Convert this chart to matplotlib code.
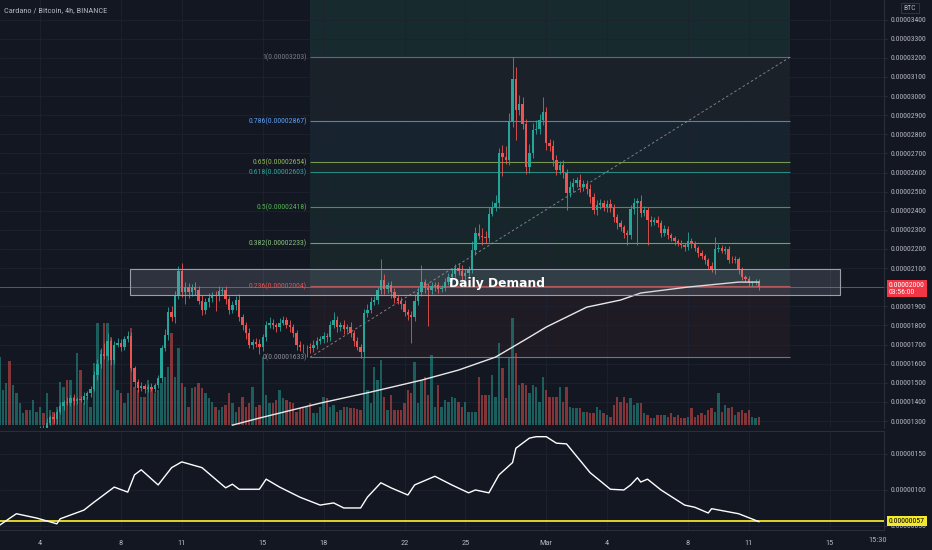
import numpy as np
import matplotlib
matplotlib.use("Agg")
import matplotlib.pyplot as plt
from matplotlib import font_manager
from matplotlib.patches import Rectangle
from matplotlib.transforms import blended_transform_factory as btf

# ---------------- data (prices in satoshi, 1e-8 BTC) ----------------
title = "Cardano / Bitcoin, 4h, BINANCE"
first_open = 1100
closes = [
    1105, 1110, 1120, 1100, 1115, 1130, 1150, 1175, 1160, 1190, 1210, 1230,
    1260, 1250, 1290, 1320, 1310, 1350, 1380, 1400, 1395, 1420, 1405, 1415,
    1410, 1430, 1445, 1470, 1540, 1600, 1650, 1640, 1720, 1620, 1700, 1710,
    1690, 1730, 1745, 1580, 1504, 1472, 1485, 1470, 1480, 1470, 1490, 1525,
    1680, 1750, 1870, 1845, 1960, 2085, 1975, 2000, 1975, 2000, 1985, 1930,
    1880, 1925, 1945, 1960, 1955, 1980, 1985, 1940, 1880, 1905, 1935, 1845,
    1800, 1760, 1700, 1715, 1705, 1690, 1740, 1800, 1815, 1800, 1790, 1815,
    1830, 1805, 1790, 1760, 1700, 1690, 1685, 1690, 1680, 1700, 1720, 1730,
    1745, 1740, 1800, 1830, 1790, 1805, 1780, 1790, 1760, 1720, 1690, 1660,
    1865, 1880, 1925, 1935, 1985, 2040, 1990, 2010, 1975, 1945, 1930, 1910,
    1870, 1855, 1845, 1930, 1975, 2025, 1995, 1985, 2005, 2010, 1990, 1998,
    2025, 2055, 2070, 2100, 2085, 2060, 2075, 2095, 2195, 2285, 2270, 2265,
    2255, 2385, 2420, 2440, 2700, 2680, 2665, 2870, 3090, 2925, 2960, 2855,
    2630, 2700, 2820, 2830, 2875, 2915, 2755, 2740, 2665, 2612, 2640, 2600,
    2493, 2524, 2545, 2561, 2525, 2540, 2515, 2472, 2404, 2430, 2440, 2420,
    2435, 2415, 2367, 2336, 2315, 2284, 2273, 2410, 2440, 2450, 2390, 2405,
    2352, 2340, 2350, 2335, 2285, 2305, 2273, 2255, 2243, 2232, 2222, 2210,
    2240, 2225, 2205, 2180, 2165, 2140, 2110, 2090, 2200, 2205, 2190, 2200,
    2145, 2140, 2150, 2090, 2055, 2045, 2020, 2025, 2030, 2000]
upper_wicks = [
    10, 15, 10, 20, 15, 10, 20, 15, 25, 10, 15, 20,
    15, 20, 25, 10, 20, 15, 20, 10, 25, 15, 20, 10,
    15, 20, 10, 15, 20, 25, 30, 60, 40, 15, 20, 25,
    20, 15, 25, 20, 10, 15, 20, 10, 15, 20, 10, 15,
    20, 30, 25, 30, 20, 25, 40, 30, 20, 15, 25, 20,
    30, 20, 25, 15, 20, 25, 15, 20, 15, 25, 20, 30,
    15, 20, 25, 15, 20, 25, 15, 25, 30, 20, 15, 25,
    20, 15, 25, 20, 15, 20, 15, 10, 20, 25, 20, 15,
    20, 15, 25, 40, 20, 15, 25, 20, 30, 15, 20, 15,
    20, 30, 25, 20, 15, 110, 30, 20, 25, 20, 15, 20,
    25, 15, 20, 35, 25, 90, 20, 25, 20, 15, 20, 15,
    25, 20, 30, 20, 25, 30, 20, 15, 45, 30, 45, 40,
    30, 35, 30, 40, 30, 45, 60, 40, 113, 60, 45, 35,
    25, 50, 40, 45, 30, 80, 25, 20, 30, 25, 20, 25,
    20, 30, 25, 15, 30, 20, 20, 25, 20, 25, 20, 15,
    20, 25, 20, 15, 15, 10, 15, 20, 25, 15, 30, 20,
    15, 20, 15, 20, 15, 20, 15, 10, 15, 10, 15, 10,
    48, 15, 15, 10, 15, 10, 15, 20, 62, 20, 15, 15,
    15, 20, 15, 10, 15, 10, 15, 10, 15, 12]
lower_wicks = [
    15, 10, 20, 15, 10, 20, 15, 10, 20, 15, 10, 20,
    15, 20, 15, 10, 20, 25, 15, 20, 10, 15, 20, 15,
    10, 20, 15, 20, 15, 25, 20, 15, 20, 25, 20, 15,
    25, 20, 15, 20, 25, 20, 15, 25, 20, 15, 20, 15,
    20, 15, 25, 20, 30, 20, 25, 60, 30, 20, 25, 20,
    25, 20, 30, 20, 80, 25, 20, 25, 20, 15, 25, 20,
    25, 30, 20, 25, 20, 40, 25, 20, 15, 20, 25, 20,
    15, 20, 25, 20, 30, 25, 30, 52, 25, 20, 25, 15,
    20, 25, 20, 15, 25, 20, 25, 15, 20, 25, 20, 30,
    25, 20, 15, 20, 25, 20, 25, 20, 30, 25, 20, 25,
    20, 25, 137, 20, 25, 20, 25, 190, 20, 25, 20, 15,
    20, 15, 20, 15, 20, 25, 20, 15, 20, 25, 20, 45,
    25, 20, 15, 20, 25, 100, 20, 25, 30, 155, 25, 30,
    40, 30, 25, 20, 30, 25, 35, 25, 30, 25, 20, 30,
    90, 20, 25, 20, 25, 20, 25, 30, 20, 25, 20, 20,
    25, 20, 25, 30, 20, 25, 53, 20, 25, 220, 25, 20,
    130, 20, 15, 20, 20, 15, 20, 15, 20, 15, 15, 20,
    15, 20, 15, 20, 15, 20, 15, 10, 20, 15, 10, 15,
    20, 15, 15, 20, 15, 20, 15, 15, 15, 15]
volumes = [
    68, 35, 42, 64, 40, 32, 22, 12, 15, 15, 25, 13, 18, 12, 32, 15, 13, 18, 43, 38,
    45, 45, 28, 72, 55, 22, 28, 18, 62, 102, 75, 102, 102, 88, 65, 35, 32, 22, 32, 97,
    38, 35, 28, 28, 45, 38, 32, 35, 42, 48, 58, 92, 48, 77, 42, 38, 18, 37, 38, 42,
    37, 32, 27, 23, 18, 15, 18, 20, 32, 22, 13, 18, 28, 18, 22, 38, 18, 20, 68, 30,
    22, 22, 25, 35, 27, 25, 23, 22, 13, 17, 17, 18, 22, 12, 12,
    18, 28, 27, 18, 20, 13, 15, 18, 18, 17, 17, 16, 15, 68, 35, 22, 58, 45, 65, 28,
    15, 30, 15, 15, 15, 22, 35, 32, 63, 22, 45, 48, 30, 70, 18, 40, 18, 25, 23, 28,
    27, 23, 18, 23, 13, 13, 13, 48, 30, 30, 30, 50, 28, 82, 57, 27, 67, 107, 72, 40,
    42, 40, 32, 40, 38, 23, 48, 35, 28, 28, 28, 38, 23, 38, 18, 17, 17, 17, 13, 13,
    12, 12, 18, 15, 12, 10, 8,
    20, 28, 23,
    28, 22, 27, 20, 22, 22, 12, 10, 7, 7, 10, 10, 10, 8, 12, 8, 10, 7, 7, 8,
    17, 8, 10, 12, 10, 15, 17, 13, 32, 13, 20, 17, 18, 10, 13, 15, 12, 15, 8, 7, 8]

ma_idx = [69, 77, 95, 110, 125, 136, 147, 152, 157, 162, 174, 184, 190, 204, 219, 225]
ma_val = [1279, 1316, 1394, 1452, 1514, 1567, 1635, 1687, 1739, 1792, 1896, 1933,
          1970, 2001, 2027, 2027]

ind_idx = [0, 5, 11, 17, 18, 25, 28, 34, 38, 40, 42, 47, 51, 54, 60, 67, 69, 71, 77, 79,
           83, 89, 95, 99, 102, 107, 109, 113, 116, 121, 123, 129, 134, 139, 141, 145,
           148, 152, 153, 157, 159, 162, 165, 168, 175, 181, 185, 187, 189, 190, 192,
           196, 203, 206, 210, 211, 219, 225]
ind_val = [51, 67, 61, 53, 60, 72, 83, 104, 97, 121, 128, 107, 131, 139, 131, 103, 108,
           101, 101, 115, 104, 90, 79, 82, 75, 75, 90, 110, 103, 93, 107, 119, 107, 96,
           100, 96, 121, 138, 158, 172, 174, 174, 165, 164, 124, 101, 100, 107, 117, 111,
           115, 100, 79, 76, 68, 74, 67, 56]
ind_level = 57

fib_labels = ["1", "0.786", "0.65", "0.618", "0.5", "0.382", "0.236", "0"]
fib_prices = [3203, 2867, 2654, 2603, 2418, 2233, 2004, 1633]
fib_colors = ["#787b86", "#5b9cf0", "#8fb35a", "#2fa39a", "#55b055", "#86c07e", "#e0524f", "#8a8d96"]
fib_fills = ["#1a2128", "#182330", "#1a2528", "#16252b", "#17262a", "#18262a", "#1f1b25"]
fib_top_fill = "#172a2e"
fib_start, fib_end = 92.0, 234.2

demand_lo, demand_hi = 1959, 2095
demand_start, demand_end = 38.7, 249.0
demand_text = "Daily Demand"

price_ticks = [1300, 1400, 1500, 1600, 1700, 1800, 1900, 2000, 2100, 2200, 2300,
               2400, 2500, 2600, 2700, 2800, 2900, 3000, 3100, 3200, 3300, 3400]
ind_ticks = [50, 100, 150]
date_pos = [12, 36, 54, 78, 96, 120, 138, 162, 180, 204, 222, 246]
date_lab = ["4", "8", "11", "15", "18", "22", "25", "Mar", "4", "8", "11", "15"]
countdown = "03:56:00"
time_label = "15:30"

# ---------------- styling ----------------
avail = {f.name for f in font_manager.fontManager.ttflist}
NARROW = next((f for f in ["Liberation Sans Narrow", "Roboto Condensed", "Open Sans Condensed",
                           "Liberation Sans", "DejaVu Sans"] if f in avail), "DejaVu Sans")
plt.rcParams["font.family"] = [NARROW, "DejaVu Sans"]

BG = "#131722"
GRID = "#1e2230"
TXT = "#b2b5be"
UP, DN = "#26a69a", "#ef5350"
W, H = 932, 550
PLOT_R = 884
XMIN, XMAX = 0.148, 262.07
AXFS = 5.6

fig = plt.figure(figsize=(W / 100, H / 100), dpi=100, facecolor=BG)


def rect(top, bottom):
    return [0, 1 - bottom / H, PLOT_R / W, (bottom - top) / H]


ax = fig.add_axes(rect(0, 428))
axi = fig.add_axes(rect(431, 530))
for a in (ax, axi):
    a.set_facecolor(BG)
    a.set_xlim(XMIN, XMAX)
    for s in ("top", "left", "bottom"):
        a.spines[s].set_visible(False)
    a.spines["right"].set_color("#2a2e39")
    a.spines["right"].set_linewidth(0.8)
    a.set_xticks(date_pos)
    a.grid(True, color=GRID, lw=0.6, zorder=0)
    a.set_axisbelow(True)
    a.yaxis.tick_right()
    a.tick_params(axis="y", left=False, right=True, labelright=True, labelleft=False,
                  length=2, color="#2a2e39", labelsize=AXFS, labelcolor=TXT, pad=3)
axi.spines["top"].set_visible(True)
axi.spines["top"].set_color("#2a2e39")
axi.spines["bottom"].set_visible(True)
axi.spines["bottom"].set_color("#2a2e39")

ax.set_ylim(1264, 3502)
axi.set_ylim(44.4, 181.9)
ax.tick_params(axis="x", bottom=False, labelbottom=False)
axi.tick_params(axis="x", bottom=False, labelbottom=True, labelsize=6,
                labelcolor=TXT, pad=4)
axi.set_xticklabels(date_lab)
last = closes[-1]
ax.set_yticks(price_ticks)
ax.set_yticklabels(["" if p == last else f"{p / 1e8:.8f}" for p in price_ticks])
axi.set_yticks(ind_ticks)
axi.set_yticklabels([f"{p / 1e8:.8f}" for p in ind_ticks])

# ---------------- fib retracement ----------------
ax.add_patch(Rectangle((fib_start, fib_prices[0]), fib_end - fib_start,
                       4000 - fib_prices[0], fc=fib_top_fill, ec="none", zorder=0.5))
for i in range(len(fib_prices) - 1):
    ax.add_patch(Rectangle((fib_start, fib_prices[i + 1]), fib_end - fib_start,
                           fib_prices[i] - fib_prices[i + 1], fc=fib_fills[i],
                           ec="none", zorder=0.5))
for lab, p, col in zip(fib_labels, fib_prices, fib_colors):
    ax.hlines(p, fib_start, fib_end, colors=col, lw=0.8, alpha=0.8, zorder=2)
    ax.text(fib_start - 0.9, p, f"{lab}({p / 1e8:.8f})", ha="right", va="center",
            fontsize=5.6, color=col, zorder=8)
ax.plot([fib_start, fib_end], [fib_prices[-1], fib_prices[0]], color="#9598a1",
        lw=0.7, ls=(0, (2.5, 2.5)), alpha=0.8, zorder=3)

# ---------------- last price line ----------------
ax.axhline(last, color="#f23645", lw=0.6, alpha=0.85, zorder=2)

# ---------------- candles & volume ----------------
c = np.array(closes, dtype=float)
o = np.r_[first_open, c[:-1]]
hi = np.maximum(o, c) + np.array(upper_wicks)
lo = np.minimum(o, c) - np.array(lower_wicks)
k = np.arange(len(c))
cols = np.where(c >= o, UP, DN)

vt = btf(ax.transData, ax.transAxes)
ax.bar(k, np.array(volumes) / 428.0, bottom=3 / 428.0, width=0.72, color=cols,
       alpha=0.5, linewidth=0, transform=vt, zorder=3)

ax.vlines(k, lo, hi, colors=cols, lw=0.6, zorder=4)
ax.bar(k, np.maximum(np.abs(c - o), 3), bottom=np.minimum(o, c), width=0.72,
       color=cols, linewidth=0, zorder=5)

# moving average
ax.plot(ma_idx, ma_val, color="#e8e8e8", lw=1.0, zorder=6)

# demand zone
ax.add_patch(Rectangle((demand_start, demand_lo), demand_end - demand_start,
                       demand_hi - demand_lo, fc=(0.62, 0.64, 0.70, 0.2),
                       ec="#9a9ea8", lw=0.8, zorder=7))
ax.text(147.4, 2022, demand_text, ha="center", va="center", fontsize=8.8,
        color="white", fontweight="bold", family=["DejaVu Sans"], zorder=9)

# title
ax.text(4 / PLOT_R, 1 - 10 / 428, title, transform=ax.transAxes, ha="left",
        va="center", fontsize=6, color=TXT, zorder=9)

# last price label
ax.annotate(f"{last / 1e8:.8f}\n{countdown}", xy=(1.0, last),
            xycoords=btf(ax.transAxes, ax.transData), xytext=(3.5, 3.5),
            textcoords="offset points", ha="left", va="top", fontsize=AXFS,
            color="white", linespacing=1.1, annotation_clip=False,
            bbox=dict(boxstyle="square,pad=0.3", fc="#f23645", ec="none"), zorder=10)

# indicator
axi.plot(ind_idx, ind_val, color="white", lw=1.0, zorder=4)
axi.axhline(ind_level, color="#f0e22a", lw=1.3, zorder=3)
axi.annotate(f"{ind_level / 1e8:.8f}", xy=(1.0, ind_level),
             xycoords=btf(axi.transAxes, axi.transData), xytext=(3.5, 0),
             textcoords="offset points", ha="left", va="center", fontsize=AXFS,
             color="black", annotation_clip=False,
             bbox=dict(boxstyle="square,pad=0.25", fc="#f5e92d", ec="none"), zorder=10)

# corner labels
fig.text(910 / W, 1 - 8 / H, "BTC", ha="center", va="center", fontsize=5.5, color=TXT,
         bbox=dict(boxstyle="square,pad=0.3", fc=BG, ec="#363a45", lw=0.6))
fig.text(878 / W, 1 - 540 / H, time_label, ha="center", va="center", fontsize=6,
         color=TXT)

fig.savefig("out.png", dpi=100, facecolor=BG)
